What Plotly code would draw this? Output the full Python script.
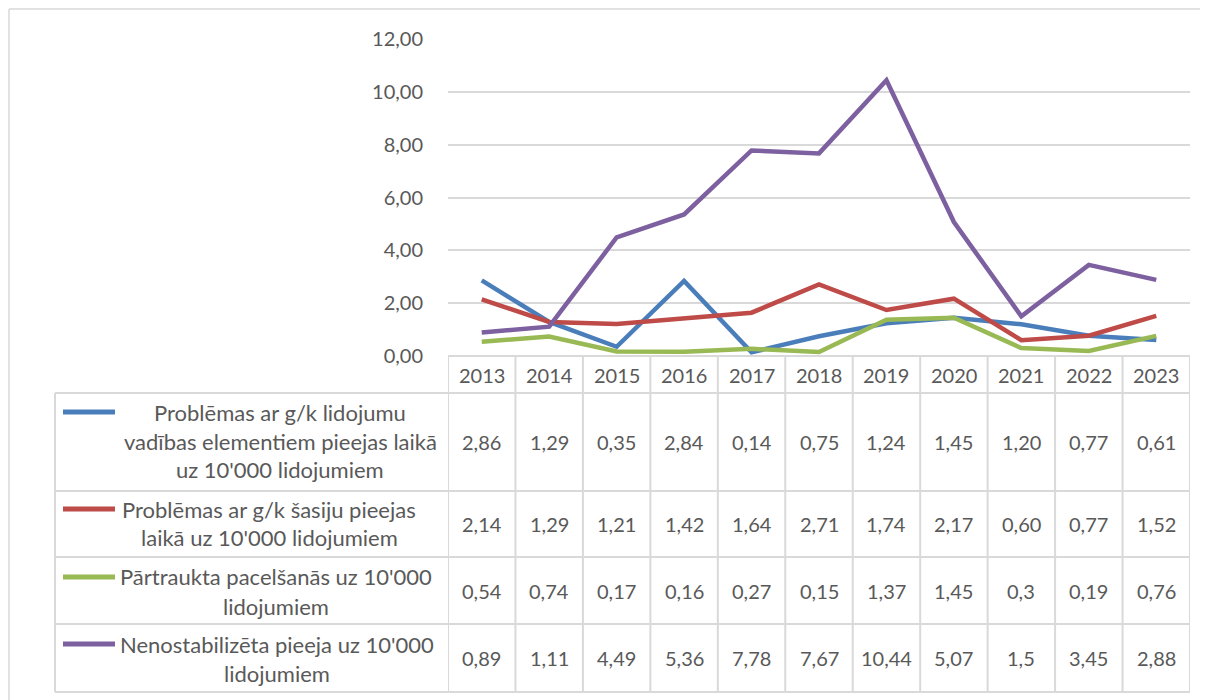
import plotly.graph_objects as go

years = ["2013", "2014", "2015", "2016", "2017", "2018", "2019", "2020", "2021", "2022", "2023"]

series_names = [
    ["Problēmas ar g/k lidojumu", "vadības elementiem pieejas laikā", "uz 10'000 lidojumiem"],
    ["Problēmas ar g/k šasiju pieejas", "laikā uz 10'000 lidojumiem"],
    ["Pārtraukta pacelšanās uz 10'000", "lidojumiem"],
    ["Nenostabilizēta pieeja uz 10'000", "lidojumiem"],
]
series_colors = ["#4A7EBB", "#BE4B48", "#98B954", "#7D60A0"]

# table text as shown in the picture
controls = ["2,86", "1,29", "0,35", "2,84", "0,14", "0,75", "1,24", "1,45", "1,20", "0,77", "0,61"]
gear = ["2,14", "1,29", "1,21", "1,42", "1,64", "2,71", "1,74", "2,17", "0,60", "0,77", "1,52"]
rejected_takeoff = ["0,54", "0,74", "0,17", "0,16", "0,27", "0,15", "1,37", "1,45", "0,3", "0,19", "0,76"]
unstable_approach = ["0,89", "1,11", "4,49", "5,36", "7,78", "7,67", "10,44", "5,07", "1,5", "3,45", "2,88"]
table_rows = [controls, gear, rejected_takeoff, unstable_approach]

OFF = 8  # page body margin
W, H = 1208 - OFF, 700 - OFF
# plot area in screenshot pixels
PL, PR, PT, PB = 448, 1190, 39, 356
N = len(years)


def px_x(px):
    # screenshot pixel -> paper x
    return (px - PL) / (PR - PL)


def px_y(py):
    # screenshot pixel -> paper y
    return (PB - py) / (PB - PT)


grid_c = "#D9D9D9"
txt_c = "#595959"
font = "Lato"
fs = 20
fs_names = 22

fig = go.Figure()
for name, col, row in zip(series_names, series_colors, table_rows):
    fig.add_trace(go.Scatter(
        x=list(range(N)), y=[float(v.replace(",", ".")) for v in row],
        mode="lines", name=" ".join(name),
        line=dict(color=col, width=4.5), showlegend=False))

# table geometry (screenshot pixel rows)
row_edges = [356, 393, 491, 557, 624, 692]
table_left = 55
shapes = []
shapes.append(dict(type="line", xref="paper", yref="paper", x0=0, x1=1,
                   y0=px_y(row_edges[0]), y1=px_y(row_edges[0])))
for e in row_edges[1:]:
    shapes.append(dict(type="line", xref="paper", yref="paper", x0=px_x(table_left), x1=1,
                       y0=px_y(e), y1=px_y(e)))
for i in range(N + 1):
    shapes.append(dict(type="line", xref="x", yref="paper", x0=i - 0.5, x1=i - 0.5,
                       y0=px_y(row_edges[0]), y1=px_y(row_edges[-1])))
shapes.append(dict(type="line", xref="paper", yref="paper", x0=px_x(table_left), x1=px_x(table_left),
                   y0=px_y(row_edges[1]), y1=px_y(row_edges[-1])))
for s in shapes:
    s["line"] = dict(color=grid_c, width=2)
    s["layer"] = "below"

# legend keys
key_y = [412, 509, 577, 644]
for ky, col in zip(key_y, series_colors):
    shapes.append(dict(type="line", xref="paper", yref="paper", x0=px_x(63), x1=px_x(115),
                       y0=px_y(ky), y1=px_y(ky), line=dict(color=col, width=5)))

# outer chart border
shapes.append(dict(type="line", xref="paper", yref="paper", x0=px_x(9), x1=px_x(1208),
                   y0=px_y(9), y1=px_y(9), line=dict(color=grid_c, width=1.5)))
shapes.append(dict(type="line", xref="paper", yref="paper", x0=px_x(9), x1=px_x(9),
                   y0=px_y(9), y1=px_y(700), line=dict(color=grid_c, width=1.5)))

annotations = []
hdr_y = px_y((row_edges[0] + row_edges[1]) / 2)
for i, yr in enumerate(years):
    annotations.append(dict(x=i, y=hdr_y, xref="x", yref="paper", text=yr, showarrow=False,
                            xanchor="center", yanchor="middle",
                            font=dict(size=fs, color=txt_c, family=font)))

line_y = [[412, 441, 469], [509, 537], [576, 606], [644, 673]]
line_cx = [280, 269, 276, 277]
for r, (row, name) in enumerate(zip(table_rows, series_names)):
    yc = px_y((row_edges[r + 1] + row_edges[r + 2]) / 2)
    for i, v in enumerate(row):
        annotations.append(dict(x=i, y=yc, xref="x", yref="paper", text=v, showarrow=False,
                                xanchor="center", yanchor="middle",
                                font=dict(size=fs, color=txt_c, family=font)))
    for ln, ly in zip(name, line_y[r]):
        annotations.append(dict(x=px_x(line_cx[r]), y=px_y(ly), xref="paper", yref="paper", text=ln,
                                showarrow=False, xanchor="center", yanchor="middle",
                                font=dict(size=fs_names, color=txt_c, family=font)))

fig.update_layout(
    width=W, height=H,
    margin=dict(l=PL - OFF, r=W - (PR - OFF), t=PT - OFF, b=H - (PB - OFF)),
    paper_bgcolor="white", plot_bgcolor="white",
    separators=", ",
    font=dict(family=font, color=txt_c),
    shapes=shapes, annotations=annotations,
    xaxis=dict(range=[-0.5, N - 0.5], showticklabels=False, showgrid=False, zeroline=False,
               tickvals=list(range(N)), ticks=""),
    yaxis=dict(range=[0, 12], dtick=2, tickformat=".2f", showgrid=True, gridcolor=grid_c,
               gridwidth=1.5, zeroline=False, tickfont=dict(size=fs, color=txt_c, family=font),
               ticks="outside", ticklen=20, tickcolor="rgba(0,0,0,0)"),
)

fig.write_html("out.html")
